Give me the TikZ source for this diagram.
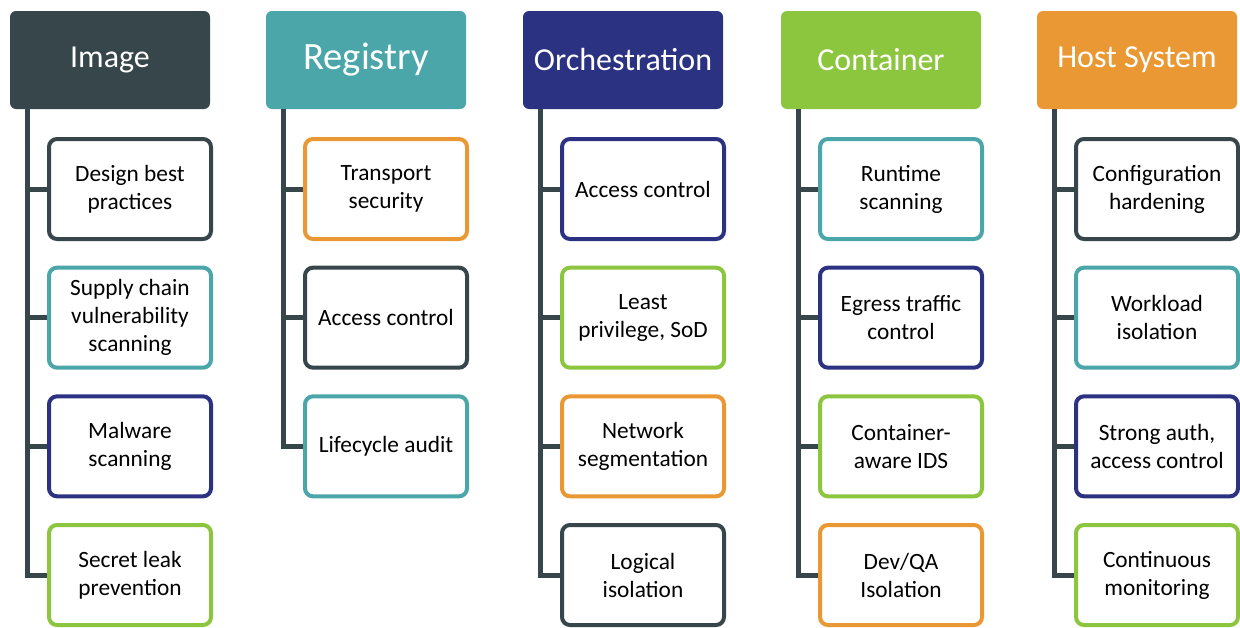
\documentclass[tikz,border=0pt]{standalone}
\usepackage{fontspec}
\setmainfont{Carlito}
\usetikzlibrary{positioning}
\definecolor{slate}{HTML}{37464B}
\definecolor{teal}{HTML}{4AA6A8}
\definecolor{navy}{HTML}{2C3282}
\definecolor{lime}{HTML}{8CC63F}
\definecolor{amber}{HTML}{E99834}
\tikzset{
  header/.style={fill=#1, text=white, rounded corners=4.5pt, minimum width=150pt,
    minimum height=73.5pt, font=\fontsize{24}{28}\selectfont},
  item/.style={draw=#1, line width=3pt, fill=white, rounded corners=6pt, minimum width=121.5pt,
    minimum height=75pt, align=center, font=\fontsize{17.5}{21}\selectfont},
  trunk/.style={draw=slate, line width=3.75pt}
}
\begin{document}
\begin{tikzpicture}[x=0.75pt, y=-0.75pt, node distance=18.5pt]
  \useasboundingbox (0,0) rectangle (1240,628);

  % Image
  \node[header=slate] (img) at (110,60) {Image};
  \node[item=slate] (img1) at (130,189) {Design best\\practices};
  \node[item=teal, below=of img1] (img2) {Supply chain\\vulnerability\\scanning};
  \node[item=navy, below=of img2] (img3) {Malware\\scanning};
  \node[item=lime, below=of img3] (img4) {Secret leak\\prevention};
  \coordinate (imgtop) at ([xshift=13.5pt]img.south west);
  \draw[trunk] (imgtop) |- (img4.west);
  \foreach \i in {1,2,3} \draw[trunk] (imgtop |- img\i.west) -- (img\i.west);

  % Registry
  \node[header=teal, font=\fontsize{29}{34}\selectfont] (reg) at (366,60) {Registry};
  \node[item=amber] (reg1) at (386,189) {Transport\\security};
  \node[item=slate, below=of reg1] (reg2) {Access control};
  \node[item=teal, below=of reg2] (reg3) {Lifecycle audit};
  \coordinate (regtop) at ([xshift=13.5pt]reg.south west);
  \draw[trunk] (regtop) |- (reg3.west);
  \foreach \i in {1,2} \draw[trunk] (regtop |- reg\i.west) -- (reg\i.west);

  % Orchestration
  \node[header=navy] (orc) at (623,60) {Orchestration};
  \node[item=navy] (orc1) at (643,189) {Access control};
  \node[item=lime, below=of orc1] (orc2) {Least\\privilege, SoD};
  \node[item=amber, below=of orc2] (orc3) {Network\\segmentation};
  \node[item=slate, below=of orc3] (orc4) {Logical\\isolation};
  \coordinate (orctop) at ([xshift=13.5pt]orc.south west);
  \draw[trunk] (orctop) |- (orc4.west);
  \foreach \i in {1,2,3} \draw[trunk] (orctop |- orc\i.west) -- (orc\i.west);

  % Container
  \node[header=lime] (con) at (881,60) {Container};
  \node[item=teal] (con1) at (901,189) {Runtime\\scanning};
  \node[item=navy, below=of con1] (con2) {Egress traffic\\control};
  \node[item=lime, below=of con2] (con3) {Container-\\aware IDS};
  \node[item=amber, below=of con3] (con4) {Dev/QA\\Isolation};
  \coordinate (contop) at ([xshift=13.5pt]con.south west);
  \draw[trunk] (contop) |- (con4.west);
  \foreach \i in {1,2,3} \draw[trunk] (contop |- con\i.west) -- (con\i.west);

  % Host System
  \node[header=amber] (hst) at (1137,60) {Host System};
  \node[item=slate] (hst1) at (1157,189) {Configuration\\hardening};
  \node[item=teal, below=of hst1] (hst2) {Workload\\isolation};
  \node[item=navy, below=of hst2] (hst3) {Strong auth,\\access control};
  \node[item=lime, below=of hst3] (hst4) {Continuous\\monitoring};
  \coordinate (hsttop) at ([xshift=13.5pt]hst.south west);
  \draw[trunk] (hsttop) |- (hst4.west);
  \foreach \i in {1,2,3} \draw[trunk] (hsttop |- hst\i.west) -- (hst\i.west);
\end{tikzpicture}
\end{document}
